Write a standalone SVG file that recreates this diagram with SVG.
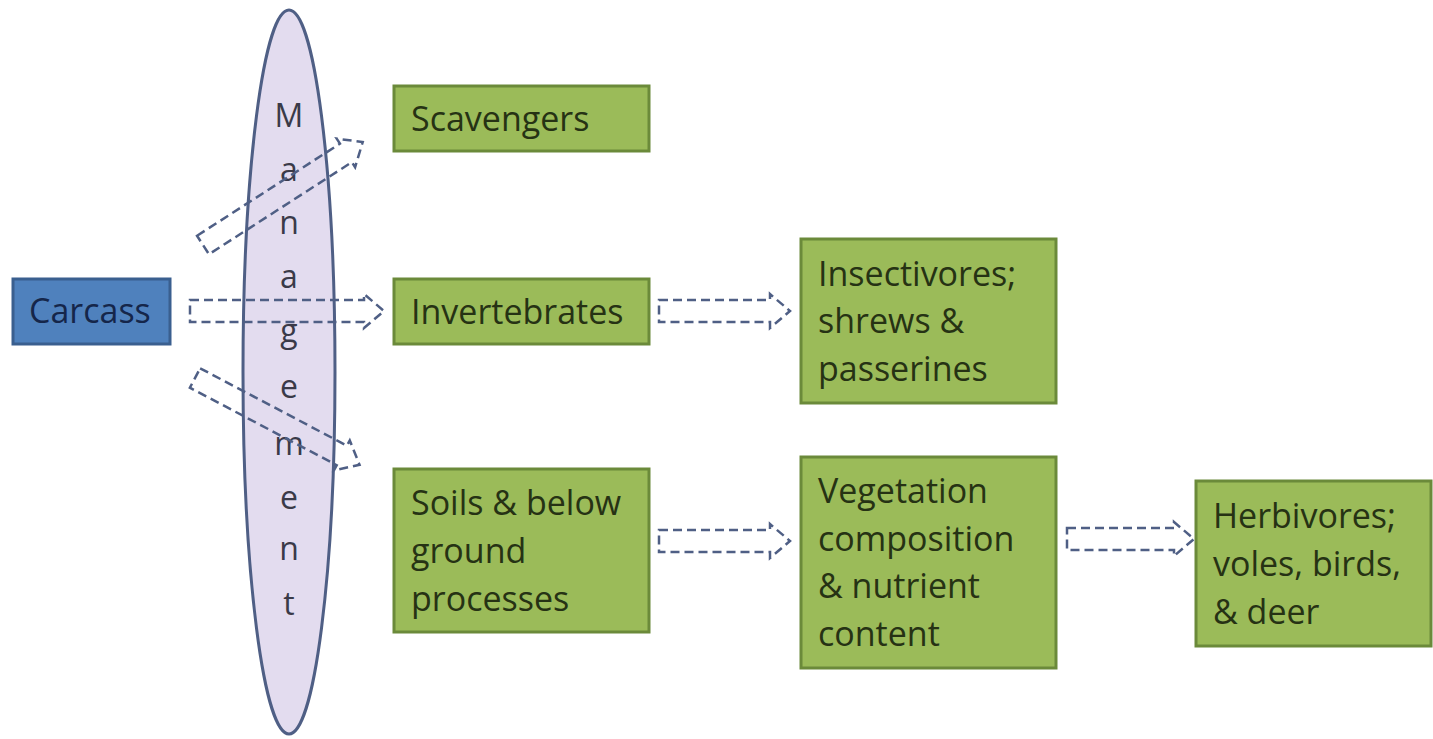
<svg xmlns="http://www.w3.org/2000/svg" width="1433" height="739" viewBox="0 0 1433 739">
<defs>
<style>
.g{fill:#9bbb59;stroke:#6b8a3a;stroke-width:3}
.b{fill:#4f81bd;stroke:#3a5f8f;stroke-width:3}
.t{font-family:"Open Sans","Liberation Sans",sans-serif;font-size:34px;fill:#263214}
.tb{font-family:"Open Sans","Liberation Sans",sans-serif;font-size:34px;fill:#15264a}
.m{font-family:"Open Sans","Liberation Sans",sans-serif;font-size:32px;fill:#3a3a48;text-anchor:middle}
.a{fill:none;stroke:#4f5f85;stroke-width:2.5;stroke-dasharray:9 5}
</style>
</defs>
<rect width="1433" height="739" fill="#ffffff"/>
<g id="management">
<ellipse cx="289" cy="372" rx="46" ry="362" fill="#e3dcef" stroke="#4f5f85" stroke-width="3"/>
<text class="m" x="289" y="127">M</text>
<text class="m" x="289" y="181">a</text>
<text class="m" x="289" y="234">n</text>
<text class="m" x="289" y="288">a</text>
<text class="m" x="289" y="342">g</text>
<text class="m" x="289" y="398">e</text>
<text class="m" x="289" y="455">m</text>
<text class="m" x="289" y="509">e</text>
<text class="m" x="289" y="560">n</text>
<text class="m" x="289" y="615">t</text>
</g>
<g id="carcass"><rect class="b" x="13" y="279" width="157" height="65"/><text class="tb" x="29" y="323">Carcass</text></g>
<g id="scavengers"><rect class="g" x="394" y="86" width="255" height="65"/><text class="t" x="411" y="131">Scavengers</text></g>
<g id="invertebrates"><rect class="g" x="394" y="279" width="255" height="65"/><text class="t" x="411" y="324">Invertebrates</text></g>
<g id="insectivores"><rect class="g" x="801" y="239" width="255" height="164"/><text class="t" x="818" y="286">Insectivores;</text><text class="t" x="818" y="333">shrews &amp;</text><text class="t" x="818" y="381">passerines</text></g>
<g id="soils"><rect class="g" x="394" y="469" width="255" height="163"/><text class="t" x="411" y="515">Soils &amp; below</text><text class="t" x="411" y="563">ground</text><text class="t" x="411" y="611">processes</text></g>
<g id="vegetation"><rect class="g" x="801" y="457" width="255" height="211"/><text class="t" x="818" y="503">Vegetation</text><text class="t" x="818" y="551">composition</text><text class="t" x="818" y="598">&amp; nutrient</text><text class="t" x="818" y="646">content</text></g>
<g id="herbivores"><rect class="g" x="1196" y="481" width="235" height="165"/><text class="t" x="1213" y="528">Herbivores;</text><text class="t" x="1213" y="576">voles, birds,</text><text class="t" x="1213" y="624">&amp; deer</text></g>
<g id="connectors">
<path class="a" d="M190 300 H364 V294 L384 311 L364 328 V322 H190 Z"/>
<path class="a" d="M659 300 H770 V294 L790 311 L770 328 V322 H659 Z"/>
<path class="a" d="M659 530 H770 V524 L790 541 L770 558 V552 H659 Z"/>
<path class="a" d="M1067 528 H1174 V522 L1194 539 L1174 556 V550 H1067 Z"/>
<path class="a" transform="translate(203,245) rotate(-32.8)" d="M0 -11 H170 V-17 L190 0 L170 17 V11 H0 Z"/>
<path class="a" transform="translate(195,378) rotate(27.8)" d="M0 -11 H166 V-17 L186 0 L166 17 V11 H0 Z"/>
</g>
</svg>
